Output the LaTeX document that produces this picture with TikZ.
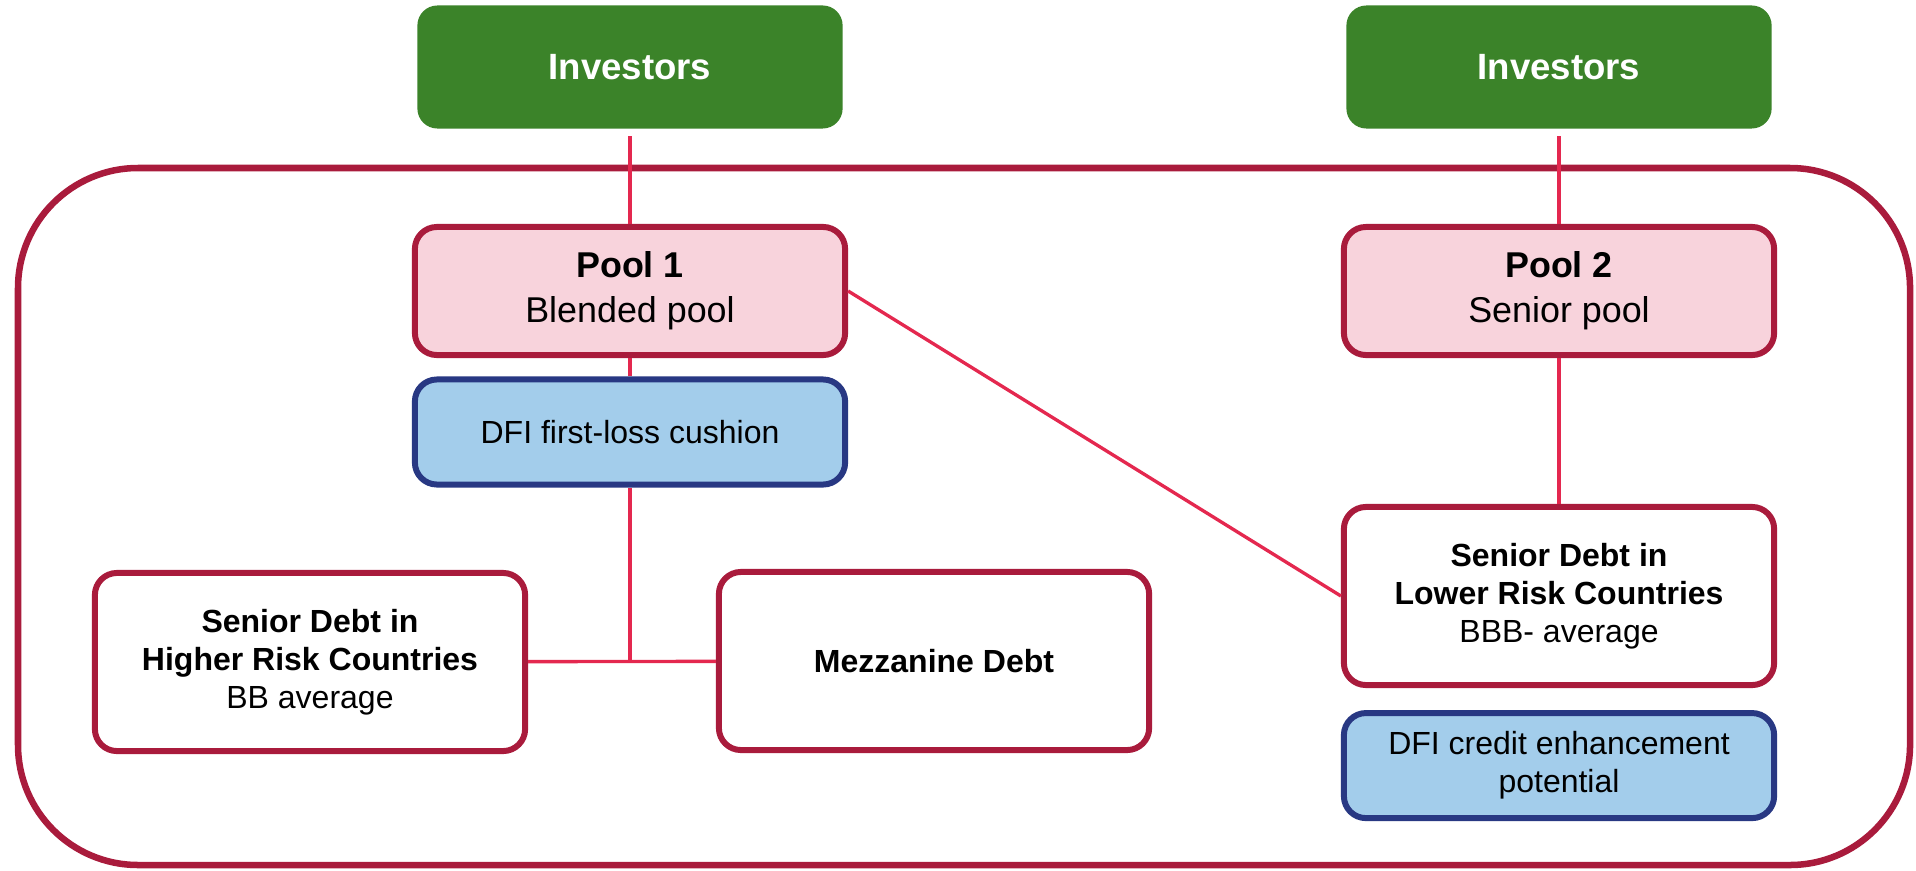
\documentclass[tikz,border=0pt]{standalone}
\usepackage{fontspec}
\setmainfont{Liberation Sans}
\usetikzlibrary{positioning}
\definecolor{invgreen}{RGB}{59,131,41}
\definecolor{poolred}{RGB}{169,27,60}
\definecolor{poolpink}{RGB}{248,211,220}
\definecolor{dfiblue}{RGB}{163,205,235}
\definecolor{dfinavy}{RGB}{40,56,131}
\definecolor{linkred}{RGB}{228,40,79}

\begin{document}
\begin{tikzpicture}[
  x=0.01cm,y=-0.01cm,
  box/.style={draw=poolred,line width=1.7pt,rounded corners=0.22cm,
    minimum width=4.3cm,align=center,inner sep=0pt},
  investor/.style={fill=invgreen,rounded corners=0.2cm,minimum width=4.25cm,
    minimum height=1.23cm,text=white,font=\fontsize{10.4}{12}\selectfont\bfseries},
  pool/.style={box,fill=poolpink,minimum height=1.28cm,
    font=\fontsize{10.2}{12.8}\selectfont},
  debt/.style={box,fill=white,minimum height=1.78cm,
    font=\fontsize{9.1}{10.8}\selectfont},
  dfi/.style={box,draw=dfinavy,fill=dfiblue,minimum height=1.05cm,
    font=\fontsize{9.1}{10.8}\selectfont},
  link/.style={draw=linkred,line width=0.95pt}
]
  \useasboundingbox (0,0) rectangle (1916,870);

  % Frame round both pools
  \draw[poolred,line width=1.85pt,rounded corners=1.2cm] (18,168) rectangle (1910,865);

  % Investors
  \node[investor] (inv1) at (630,67) {Investors};
  \node[investor] (inv2) at (1559,67) {Investors};

  % Pool 1
  \node[pool] (pool1) at (630,291) {\textbf{Pool 1}\\Blended pool};
  \node[dfi] (cushion) at (630,432) {DFI first-loss cushion};
  \node[debt] (higher) at (310,662) {\textbf{Senior Debt in}\\\textbf{Higher Risk Countries}\\BB average};
  \node[debt] (mezz) at (934,661) {\textbf{Mezzanine Debt}};

  % Pool 2
  \node[pool] (pool2) at (1559,291) {\textbf{Pool 2}\\Senior pool};
  \node[debt] (lower) at (1559,596) {\textbf{Senior Debt in}\\\textbf{Lower Risk Countries}\\BBB- average};
  \node[dfi,below=0.22cm of lower] (enhance) {DFI credit enhancement\\potential};

  \coordinate (split) at (cushion.south |- higher.east);

  % Links
  \draw[link,shorten <=0.07cm] (inv1) -- (pool1);
  \draw[link,shorten <=0.07cm] (inv2) -- (pool2);
  \draw[link] (pool1) -- (cushion);
  \draw[link] (cushion) -- (split);
  \draw[link] (higher) -- (mezz);
  \draw[link] (pool2) -- (lower);
  \draw[link] (pool1.east) -- (lower.west);
\end{tikzpicture}
\end{document}
